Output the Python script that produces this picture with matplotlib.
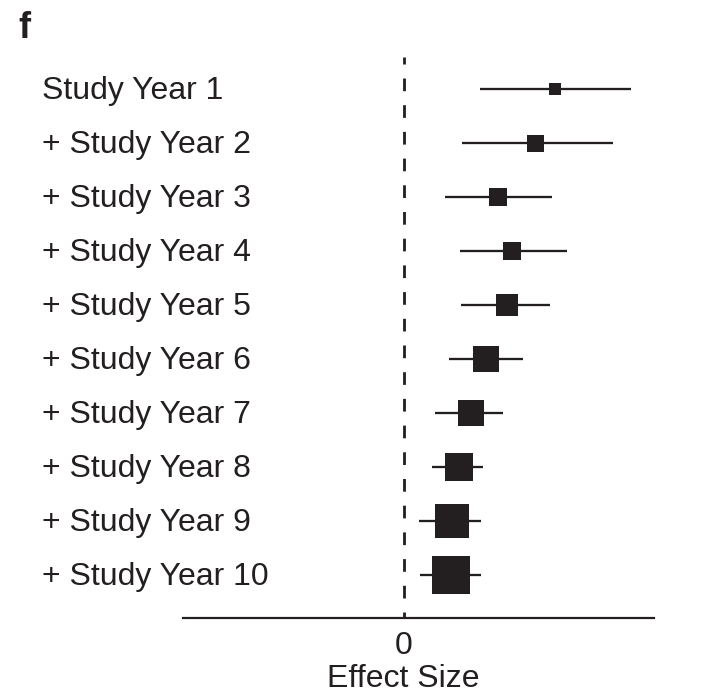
import matplotlib
matplotlib.use("Agg")
import matplotlib.pyplot as plt
from matplotlib.transforms import blended_transform_factory

plt.rcParams['font.family'] = ['Liberation Sans', 'DejaVu Sans']
plt.rcParams['lines.scale_dashes'] = False

# ---- data ----
labels = ["Study Year 1", "+ Study Year 2", "+ Study Year 3", "+ Study Year 4",
          "+ Study Year 5", "+ Study Year 6", "+ Study Year 7", "+ Study Year 8",
          "+ Study Year 9", "+ Study Year 10"]
estimate = [0.606, 0.527, 0.377, 0.435, 0.415, 0.328, 0.268, 0.221, 0.192, 0.188]
ci_low = [0.305, 0.234, 0.167, 0.226, 0.231, 0.183, 0.125, 0.114, 0.062, 0.065]
ci_high = [0.911, 0.839, 0.595, 0.655, 0.586, 0.479, 0.398, 0.318, 0.310, 0.311]
weights = [12.7, 17.0, 18.7, 18.7, 22.0, 25.7, 25.7, 28.0, 34.3, 37.7]
xtick_vals = [0]
xtick_labels = ["0"]

INK = '#231f20'
DPI = 100
fig = plt.figure(figsize=(7.20, 6.93), dpi=DPI)
ax = fig.add_axes([183.3 / 720, 1 - 618 / 693, (654 - 183.3) / 720, (618 - 57) / 693])

n = len(labels)
ypos = list(range(n))
px2pt = 72.0 / DPI
FS = 23

# dashed zero line
ax.axvline(0, color=INK, lw=2.8 * px2pt, linestyle=(6.7 * px2pt, (12.7 * px2pt, 14.0 * px2pt)),
           zorder=1)

for i in range(n):
    ax.plot([ci_low[i], ci_high[i]], [ypos[i], ypos[i]], color=INK, lw=2.3 * px2pt,
            solid_capstyle='butt', zorder=2)
    ax.plot([estimate[i]], [ypos[i]], marker='s', markersize=weights[i] * px2pt,
            color=INK, markeredgewidth=0, linestyle='none', zorder=3)

ax.set_xlim(-0.882, 1.002)
ax.set_ylim(9.796, -0.598)

for s in ['top', 'right', 'left']:
    ax.spines[s].set_visible(False)
ax.spines['bottom'].set_linewidth(2.2 * px2pt)
ax.spines['bottom'].set_color(INK)
ax.set_yticks([])
ax.set_xticks(xtick_vals)
ax.set_xticklabels(xtick_labels, fontsize=FS, color=INK)
ax.tick_params(axis='x', length=0, pad=9)

# x-axis title centred under zero
xtrans = blended_transform_factory(ax.transData, fig.transFigure)
ax.text(0, 1 - 687 / 693, "Effect Size", transform=xtrans, ha='center', va='baseline',
        fontsize=FS, color=INK, clip_on=False)

trans = blended_transform_factory(fig.transFigure, ax.transData)
for i in range(n):
    ax.text(42 / 720, ypos[i] + 0.185, labels[i], transform=trans, ha='left',
            va='baseline', fontsize=FS, color=INK, clip_on=False)

fig.text(18 / 720, 1 - 37.7 / 693, "f", fontsize=26, fontweight='bold', color=INK,
         ha='left', va='baseline')

fig.savefig("out.png", dpi=DPI)
